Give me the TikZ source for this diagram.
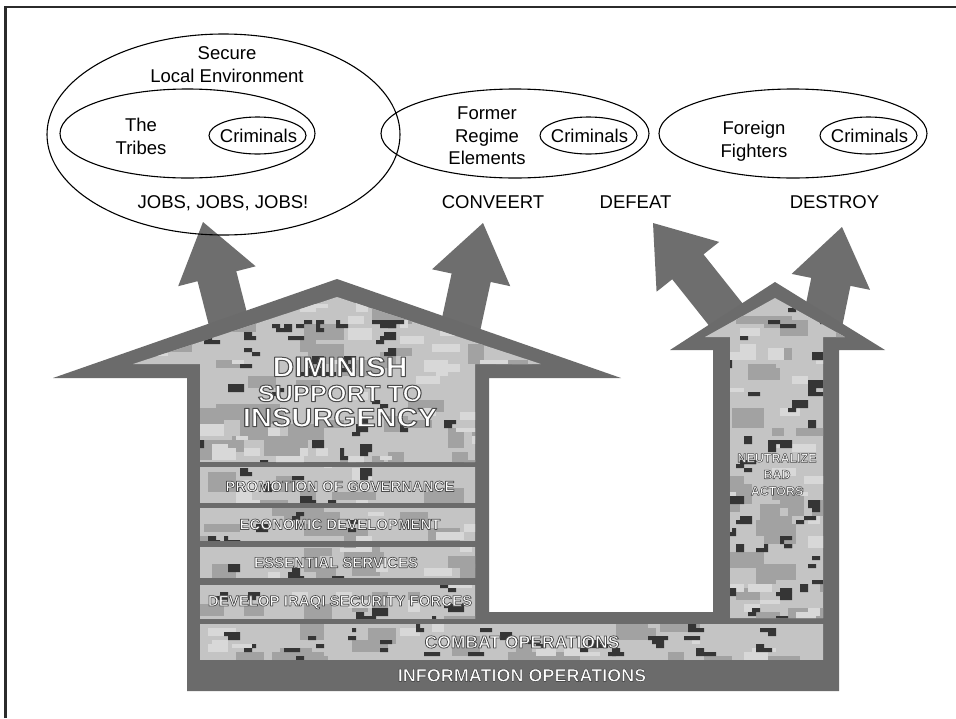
\documentclass[tikz,border=0pt]{standalone}
\usepackage{fontspec}
\setmainfont{Liberation Sans}
\usetikzlibrary{shapes.geometric}
\definecolor{framegray}{HTML}{6B6B6B}
\definecolor{arrowgray}{HTML}{6E6E6E}
\definecolor{camoA}{HTML}{C4C4C4}
\definecolor{camoB}{HTML}{A2A2A2}
\definecolor{camoC}{HTML}{D8D8D8}
\definecolor{camoD}{HTML}{353535}
\definecolor{linedark}{HTML}{2B2B2B}
% white letters with a dark outline (fill + stroke text render mode)
\newcommand\outl[2][0.9]{\special{pdf:literal direct 0.3 G #1 w 1 j 2 Tr}#2\special{pdf:literal direct 0 Tr}}
% digital camouflage fill of a box: x y w h nMid nLight nDark
\newcommand\camo[7]{%
  \fill[camoA] (#1,#2) rectangle ++(#3,#4);
  \foreach \k in {1,...,#5}{\pgfmathsetmacro\cmX{4*round((#1+rnd*#3)/4)}\pgfmathsetmacro\cmY{4*round((#2+rnd*#4)/4)}\pgfmathsetmacro\cmW{4*round((12+rnd*32)/4)}\pgfmathsetmacro\cmH{4*round((8+rnd*12)/4)}\fill[camoB] (\cmX,\cmY) rectangle ++(\cmW,\cmH);}
  \foreach \k in {1,...,#6}{\pgfmathsetmacro\cmX{4*round((#1+rnd*#3)/4)}\pgfmathsetmacro\cmY{4*round((#2+rnd*#4)/4)}\pgfmathsetmacro\cmW{4*round((8+rnd*20)/4)}\pgfmathsetmacro\cmH{4*round((4+rnd*8)/4)}\fill[camoC] (\cmX,\cmY) rectangle ++(\cmW,\cmH);}
  \foreach \k in {1,...,#7}{\pgfmathsetmacro\cmX{4*round((#1+rnd*#3)/4)}\pgfmathsetmacro\cmY{4*round((#2+rnd*#4)/4)}\pgfmathsetmacro\cmW{4*round((4+rnd*12)/4)}\pgfmathsetmacro\cmH{4*round((4+rnd*4)/4)}\pgfmathsetmacro\cmU{4*round(rnd*4)-8}\pgfmathsetmacro\cmV{4*round(rnd*2)}\fill[camoD] (\cmX,\cmY) rectangle ++(\cmW,\cmH) (\cmX+\cmU,\cmY+\cmV) rectangle ++(8,4);}
}
% big block arrow: tip x, tip y, angle, length
\newcommand\bigarrow[4]{%
  \begin{scope}[shift={(#1,#2)}, rotate=#3]
    \fill[arrowgray] (0,0) -- (40,56) -- (20,56) -- (20,#4) -- (-20,#4) -- (-20,56) -- (-40,56) -- cycle;
  \end{scope}}
\begin{document}
\begin{tikzpicture}[x=1pt,y=-1pt,
  lbl/.style={font=\fontsize{18.5}{22.5}\selectfont, align=center, inner sep=0},
  oval/.style={draw=black, line width=1.1pt, ellipse, inner sep=0},
  crim/.style={oval, minimum width=97, minimum height=37},
  wide/.style={oval, minimum width=268, minimum height=89},
  camotext/.style={text=white, inner sep=0, anchor=base, align=center},
  striptext/.style={camotext, font=\bfseries\fontsize{15}{18}\selectfont}
]
\pgfmathsetseed{7}
\useasboundingbox (0,0) rectangle (956,718);
\fill[white] (0,0) rectangle (956,718);
% frame
\draw[linedark, line width=2.6pt] (5.5,718) -- (5.5,7) -- (956,7);

% arrows (behind the house)
\bigarrow{203}{222}{14.4}{130}
\bigarrow{483}{223}{-12.2}{130}
\bigarrow{653}{223}{38.5}{130}
\bigarrow{842}{227}{-11.5}{110}

% house frame
\fill[framegray] (53,378) -- (337,279) -- (621,378) -- (489,378) -- (489,612)
  -- (713,612) -- (713,350) -- (670,350) -- (775,282) -- (885,350) -- (839,350)
  -- (839,691) -- (187,691) -- (187,378) -- cycle;

% camouflage panels
\begin{scope}
  \clip (133,364) -- (337,297) -- (541,364) -- (475,364) -- (475,462) -- (200,462) -- (200,364) -- cycle;
  \camo{133}{297}{408}{165}{55}{40}{50}
\end{scope}
\begin{scope}\clip (200,467) rectangle (475,502); \camo{196}{463}{283}{43}{9}{6}{7}\end{scope}
\begin{scope}\clip (200,508) rectangle (475,540); \camo{196}{504}{283}{40}{9}{6}{7}\end{scope}
\begin{scope}\clip (200,547) rectangle (475,577); \camo{196}{543}{283}{38}{9}{6}{5}\end{scope}
\begin{scope}\clip (200,585) rectangle (475,618); \camo{196}{581}{283}{41}{9}{6}{9}\end{scope}
\begin{scope}\clip (200,624) rectangle (823,659); \camo{196}{620}{631}{43}{22}{15}{30}\end{scope}
\begin{scope}
  \clip (705,337) -- (775,298) -- (845,337) -- (823,337) -- (823,618) -- (730,618) -- (730,337) -- cycle;
  \camo{705}{296}{140}{324}{38}{25}{42}
\end{scope}

% house texts
\node[camotext, xscale=1.07, font=\bfseries\fontsize{28}{30}\selectfont] (diminish) at (340,376.5) {\outl[1.0]{DIMINISH}};
\node[camotext, xscale=1.08, font=\bfseries\fontsize{23.5}{26}\selectfont] (support) at (340,401.5) {\outl[1.0]{SUPPORT TO}};
\node[camotext, xscale=1.1, font=\bfseries\fontsize{26.5}{28}\selectfont] (insurgency) at (340,426.7) {\outl[1.0]{INSURGENCY}};
\node[striptext] (governance) at (340,491.5) {\outl[0.7]{PROMOTION OF GOVERNANCE}};
\node[striptext] (economic) at (340,529.5) {\outl[0.7]{ECONOMIC DEVELOPMENT}};
\node[striptext] (services) at (336,567.7) {\outl[0.7]{ESSENTIAL SERVICES}};
\node[striptext] (security) at (340,606) {\outl[0.7]{DEVELOP IRAQI SECURITY FORCES}};
\node[camotext, font=\bfseries\fontsize{17.5}{20}\selectfont] (combat) at (522,648) {\outl[0.8]{COMBAT OPERATIONS}};
\node[camotext, font=\bfseries\fontsize{18}{20}\selectfont] (information) at (522,681.5) {\outl[0.6]{INFORMATION OPERATIONS}};
\node[camotext, anchor=center, font=\bfseries\fontsize{12.5}{16.5}\selectfont] (neutralize) at (777,474.5)
  {\outl[0.55]{NEUTRALIZE}\\\outl[0.55]{BAD}\\\outl[0.55]{ACTORS}};

% ellipses
\node[oval, minimum width=353, minimum height=201] (secure) at (223.5,134.5) {};
\node[oval, minimum width=255, minimum height=89] (tribes) at (187.5,133.5) {};
\node[crim] (crim1) at (257.5,135.5) {};
\node[wide] (former) at (515,133.5) {};
\node[crim] (crim2) at (588.5,135.5) {};
\node[wide] (foreign) at (793,133.5) {};
\node[crim] (crim3) at (868.5,135.5) {};

% labels
\node[lbl] (tsecure) at (227,64.5) {Secure\\Local Environment};
\node[lbl] (ttribes) at (141,136.5) {The\\Tribes};
\node[lbl] (tcrim1) at ([xshift=1pt]crim1.center) {Criminals};
\node[lbl] (tformer) at (487,136) {Former\\Regime\\Elements};
\node[lbl] (tcrim2) at ([xshift=1pt]crim2.center) {Criminals};
\node[lbl] (tforeign) at (754,141) {Foreign\\Fighters};
\node[lbl] (tcrim3) at ([xshift=1pt]crim3.center) {Criminals};
\node[lbl, anchor=base] (jobs) at (223,208) {JOBS, JOBS, JOBS!};
\node[lbl, anchor=base] (convert) at (493,208) {CONVEERT};
\node[lbl, anchor=base] (defeat) at (635.5,208) {DEFEAT};
\node[lbl, anchor=base] (destroy) at (834.5,208) {DESTROY};
\end{tikzpicture}
\end{document}
